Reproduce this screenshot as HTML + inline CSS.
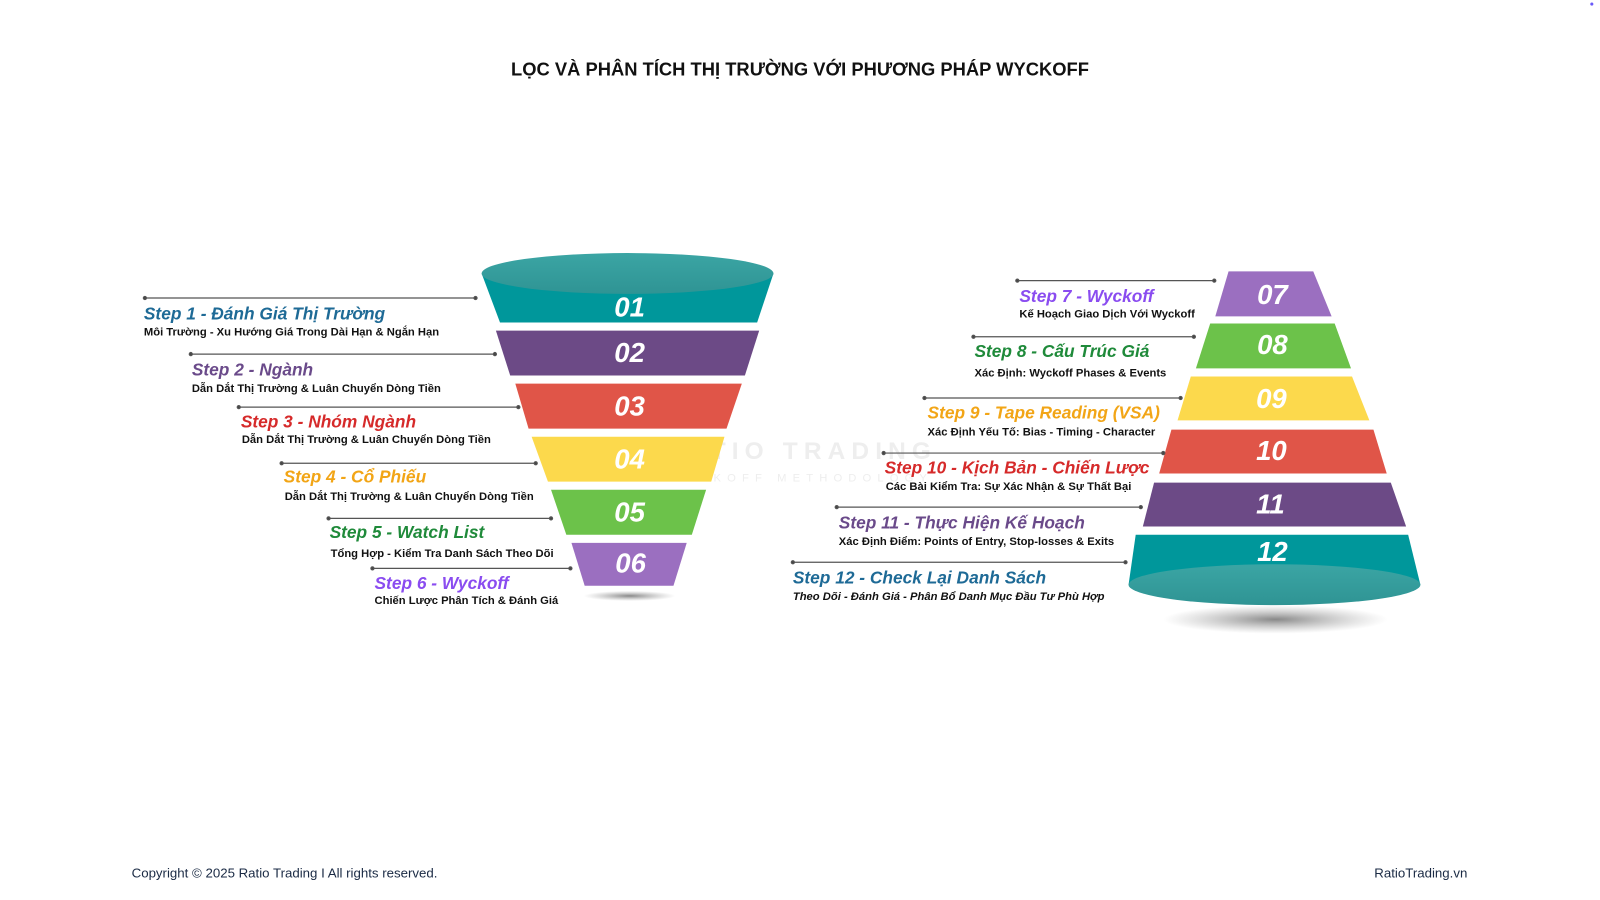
<!DOCTYPE html>
<html><head><meta charset="utf-8"><style>
html,body{margin:0;padding:0;background:#fff;}
svg{display:block;}
.t{font-family:"Liberation Sans",sans-serif;font-weight:bold;font-style:italic;font-size:17px;}
.s{font-family:"Liberation Sans",sans-serif;font-weight:bold;font-size:11px;fill:#111;}
.n{font-family:"Liberation Sans",sans-serif;font-weight:bold;font-style:italic;font-size:27px;fill:#fff;text-anchor:middle;}
</style></head><body>
<svg width="1600" height="900" viewBox="0 0 1600 900" xmlns="http://www.w3.org/2000/svg">
<defs>
<radialGradient id="sh"><stop offset="0" stop-color="#555" stop-opacity=".7"/><stop offset="1" stop-color="#888" stop-opacity="0"/></radialGradient>
<linearGradient id="tl" x1="0" y1="0" x2="0" y2="1"><stop offset="0" stop-color="#3ba5a4"/><stop offset="1" stop-color="#2f9494"/></linearGradient>
</defs>
<g transform="scale(1.0204)">
<text x="784" y="74" text-anchor="middle" font-family="Liberation Sans,sans-serif" font-weight="bold" font-size="18" fill="#111">LỌC VÀ PHÂN TÍCH THỊ TRƯỜNG VỚI PHƯƠNG PHÁP WYCKOFF</text>

<text x="785" y="450" text-anchor="middle" font-family="Liberation Sans,sans-serif" font-weight="bold" font-size="24" letter-spacing="6" fill="#eee">RATIO TRADING</text>
<text x="785" y="472" text-anchor="middle" font-family="Liberation Sans,sans-serif" font-size="11" letter-spacing="6" fill="#eee">WYCKOFF METHODOLOGY</text>

<ellipse cx="617" cy="584" rx="45" ry="5" fill="url(#sh)"/>
<polygon points="472,268 758,268 742,316 490,316" fill="#00979b"/>
<ellipse cx="615" cy="268" rx="143" ry="20" fill="url(#tl)"/>
<polygon points="486,324 744,324 730,368 500,368" fill="#6c4a86"/>
<polygon points="505,376 727,376 712,420 518,420" fill="#e05548"/>
<polygon points="521,428 710,428 697,472 537,472" fill="#fcd94c"/>
<polygon points="540,480 692,480 678,524 555,524" fill="#6cc24a"/>
<polygon points="560,532 673,532 660,574 573,574" fill="#9b6fc0"/>
<text class="n" x="617" y="310">01</text>
<text class="n" x="617" y="355">02</text>
<text class="n" x="617" y="407">03</text>
<text class="n" x="617" y="459">04</text>
<text class="n" x="617" y="511">05</text>
<text class="n" x="618" y="561">06</text>

<ellipse cx="1250" cy="607" rx="110" ry="14" fill="url(#sh)"/>
<polygon points="1204,266 1287,266 1305,310 1191,310" fill="#9b6fc0"/>
<polygon points="1186,317 1308,317 1324,361 1172,361" fill="#6cc24a"/>
<polygon points="1167,369 1325,369 1342,412 1154,412" fill="#fcd94c"/>
<polygon points="1148,421 1346,421 1359,464 1136,464" fill="#e05548"/>
<polygon points="1131,473 1363,473 1378,516 1120,516" fill="#6c4a86"/>
<polygon points="1113,524 1380,524 1392,573 1106,573" fill="#00979b"/>
<ellipse cx="1249" cy="573" rx="143" ry="20" fill="url(#tl)"/>
<text class="n" x="1247" y="298">07</text>
<text class="n" x="1247" y="347">08</text>
<text class="n" x="1246" y="400">09</text>
<text class="n" x="1246" y="451">10</text>
<text class="n" x="1245" y="503">11</text>
<text class="n" x="1247" y="550">12</text>

<g stroke="#555" stroke-width="1.2" fill="#444">
<line x1="142" y1="292" x2="466" y2="292"/><circle cx="142" cy="292" r="1.5"/><circle cx="466" cy="292" r="1.5"/>
<line x1="187" y1="347" x2="485" y2="347"/><circle cx="187" cy="347" r="1.5"/><circle cx="485" cy="347" r="1.5"/>
<line x1="234" y1="399" x2="508" y2="399"/><circle cx="234" cy="399" r="1.5"/><circle cx="508" cy="399" r="1.5"/>
<line x1="276" y1="454" x2="525" y2="454"/><circle cx="276" cy="454" r="1.5"/><circle cx="525" cy="454" r="1.5"/>
<line x1="322" y1="508" x2="540" y2="508"/><circle cx="322" cy="508" r="1.5"/><circle cx="540" cy="508" r="1.5"/>
<line x1="365" y1="557" x2="559" y2="557"/><circle cx="365" cy="557" r="1.5"/><circle cx="559" cy="557" r="1.5"/>
<line x1="997" y1="275" x2="1190" y2="275"/><circle cx="997" cy="275" r="1.5"/><circle cx="1190" cy="275" r="1.5"/>
<line x1="954" y1="330" x2="1170" y2="330"/><circle cx="954" cy="330" r="1.5"/><circle cx="1170" cy="330" r="1.5"/>
<line x1="906" y1="390" x2="1157" y2="390"/><circle cx="906" cy="390" r="1.5"/><circle cx="1157" cy="390" r="1.5"/>
<line x1="866" y1="444" x2="1140" y2="444"/><circle cx="866" cy="444" r="1.5"/><circle cx="1140" cy="444" r="1.5"/>
<line x1="820" y1="497" x2="1118" y2="497"/><circle cx="820" cy="497" r="1.5"/><circle cx="1118" cy="497" r="1.5"/>
<line x1="777" y1="551" x2="1103" y2="551"/><circle cx="777" cy="551" r="1.5"/><circle cx="1103" cy="551" r="1.5"/>
</g>

<text class="t" x="141" y="313" fill="#1e6a96">Step 1 - Đánh Giá Thị Trường</text>
<text class="s" x="141" y="329">Môi Trường - Xu Hướng Giá Trong Dài Hạn &amp; Ngắn Hạn</text>
<text class="t" x="188" y="368" fill="#6a4a8a">Step 2 - Ngành</text>
<text class="s" x="188" y="384">Dẫn Dắt Thị Trường &amp; Luân Chuyển Dòng Tiền</text>
<text class="t" x="236" y="419" fill="#d62a2a">Step 3 - Nhóm Ngành</text>
<text class="s" x="237" y="434">Dẫn Dắt Thị Trường &amp; Luân Chuyển Dòng Tiền</text>
<text class="t" x="278" y="473" fill="#f2a516">Step 4 - Cổ Phiếu</text>
<text class="s" x="279" y="490">Dẫn Dắt Thị Trường &amp; Luân Chuyển Dòng Tiền</text>
<text class="t" x="323" y="527" fill="#1f8a3a">Step 5 - Watch List</text>
<text class="s" x="324" y="546">Tổng Hợp - Kiểm Tra Danh Sách Theo Dõi</text>
<text class="t" x="367" y="577" fill="#8a4cf0">Step 6 - Wyckoff</text>
<text class="s" x="367" y="592">Chiến Lược Phân Tích &amp; Đánh Giá</text>

<text class="t" x="999" y="296" fill="#8a4cf0">Step 7 - Wyckoff</text>
<text class="s" x="999" y="311">Kế Hoạch Giao Dịch Với Wyckoff</text>
<text class="t" x="955" y="350" fill="#1f8a3a">Step 8 - Cấu Trúc Giá</text>
<text class="s" x="955" y="369">Xác Định: Wyckoff Phases &amp; Events</text>
<text class="t" x="909" y="410" fill="#f2a516">Step 9 - Tape Reading (VSA)</text>
<text class="s" x="909" y="427">Xác Định Yếu Tố: Bias - Timing - Character</text>
<text class="t" x="867" y="464" fill="#d62a2a">Step 10 - Kịch Bản - Chiến Lược</text>
<text class="s" x="868" y="480">Các Bài Kiểm Tra: Sự Xác Nhận &amp; Sự Thất Bại</text>
<text class="t" x="822" y="518" fill="#6a4a8a">Step 11 - Thực Hiện Kế Hoạch</text>
<text class="s" x="822" y="534">Xác Định Điểm: Points of Entry, Stop-losses &amp; Exits</text>
<text class="t" x="777" y="572" fill="#1e6a96">Step 12 - Check Lại Danh Sách</text>
<text class="s" x="777" y="588" font-style="italic">Theo Dõi - Đánh Giá - Phân Bổ Danh Mục Đầu Tư Phù Hợp</text>

<text x="129" y="860" font-family="Liberation Sans,sans-serif" font-size="13" fill="#1a2a44">Copyright © 2025 Ratio Trading I All rights reserved.</text>
<text x="1438" y="860" text-anchor="end" font-family="Liberation Sans,sans-serif" font-size="13" fill="#1a2a44">RatioTrading.vn</text>
<circle cx="1560" cy="4" r="1.5" fill="#6a5af9"/>
</g>
</svg>
</body></html>
